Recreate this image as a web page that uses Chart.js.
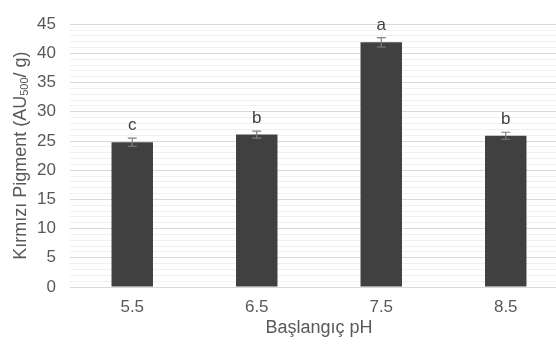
<!DOCTYPE html>
<html>
<head>
<meta charset="utf-8">
<script src="https://cdn.jsdelivr.net/npm/chart.js@4/dist/chart.umd.min.js"></script>
<style>
  html, body { margin: 0; padding: 0; background: #fff; overflow: hidden; }
  #wrap { position: relative; width: 572px; height: 345px; }
</style>
</head>
<body>
<div id="wrap"><canvas id="chart"></canvas></div>
<script>
// DATA
const phLevels = ["5.5", "6.5", "7.5", "8.5"];
const pigment = [24.8, 26.1, 41.9, 25.9];
const pigmentErr = [0.7, 0.6, 0.8, 0.6];
const groupLetters = ["c", "b", "a", "b"];

const FONT = "'Liberation Sans', Arial, sans-serif";
const TEXT = "#595959";

// error bars + significance letters
const errorBars = {
    id: "errorBars",
    afterDatasetsDraw(chart) {
        const ctx = chart.ctx;
        const y = chart.scales.y;
        const meta = chart.getDatasetMeta(0);
        ctx.save();
        meta.data.forEach((bar, i) => {
            const top = y.getPixelForValue(pigment[i] + pigmentErr[i]);
            const bot = y.getPixelForValue(pigment[i] - pigmentErr[i]);
            ctx.strokeStyle = "#808080";
            ctx.lineWidth = 1.2;
            ctx.beginPath();
            ctx.moveTo(bar.x, top); ctx.lineTo(bar.x, bot);
            ctx.moveTo(bar.x - 4.5, top); ctx.lineTo(bar.x + 4.5, top);
            ctx.moveTo(bar.x - 4.5, bot); ctx.lineTo(bar.x + 4.5, bot);
            ctx.stroke();

            ctx.fillStyle = "#404040";
            ctx.font = "17px " + FONT;
            ctx.textAlign = "center";
            ctx.textBaseline = "alphabetic";
            ctx.fillText(groupLetters[i], bar.x, top - 8);
        });
        ctx.restore();
    }
};

// y title with subscript
const yTitle = {
    id: "yTitle",
    afterDraw(chart) {
        const ctx = chart.ctx;
        const area = chart.chartArea;
        const parts = [
            { t: "Kırmızı Pigment (AU", size: 18, dy: 0 },
            { t: "500", size: 11, dy: 4 },
            { t: "/ g)", size: 18, dy: 0 }
        ];
        ctx.save();
        ctx.translate(21, (area.top + area.bottom) / 2);
        ctx.rotate(-Math.PI / 2);
        ctx.fillStyle = TEXT;
        ctx.textBaseline = "middle";
        ctx.textAlign = "left";
        let total = 0;
        parts.forEach(p => { ctx.font = p.size + "px " + FONT; p.w = ctx.measureText(p.t).width; total += p.w; });
        let x = -total / 2;
        parts.forEach(p => {
            ctx.font = p.size + "px " + FONT;
            ctx.fillText(p.t, x, p.dy + (p.size < 18 ? 0 : 0));
            x += p.w;
        });
        ctx.restore();
    }
};

new Chart(document.getElementById("chart"), {
    type: "bar",
    data: {
        labels: phLevels,
        datasets: [{
            data: pigment,
            backgroundColor: "#404040",
            borderWidth: 0,
            barPercentage: 1,
            categoryPercentage: 0.333
        }]
    },
    options: {
        responsive: true,
        maintainAspectRatio: false,
        animation: false,
        layout: { padding: { top: 15, right: 4, left: 0, bottom: 0 } },
        plugins: { legend: { display: false }, tooltip: { enabled: false } },
        scales: {
            x: {
                grid: { display: false, drawTicks: false },
                border: { color: "#d9d9d9" },
                ticks: { color: TEXT, font: { family: FONT, size: 17 }, padding: 10 },
                title: { display: true, text: "Başlangıç pH", color: TEXT,
                         font: { family: FONT, size: 18 }, padding: { top: 0, bottom: 6 } },
                afterFit: s => { s.height = 58; }
            },
            y: {
                min: 0, max: 45,
                border: { display: false },
                grid: {
                    drawTicks: false,
                    lineWidth: 1,
                    color: c => (c.tick && c.tick.value % 5 === 0) ? "#d9d9d9" : "#f0f0f0"
                },
                ticks: {
                    stepSize: 1,
                    autoSkip: false,
                    padding: 14,
                    color: TEXT,
                    font: { family: FONT, size: 17 },
                    callback: v => (v % 5 === 0 ? v : "")
                },
                afterFit: s => { s.width = 70; }
            }
        }
    },
    plugins: [errorBars, yTitle]
});
</script>
</body>
</html>
